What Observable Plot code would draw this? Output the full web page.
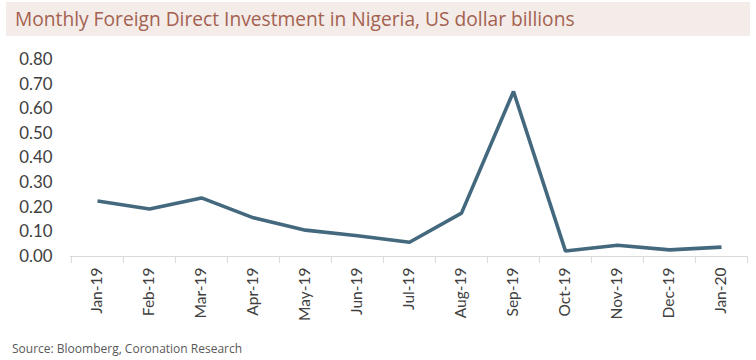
<!DOCTYPE html>
<html>
<head>
<meta charset="utf-8">
<script src="https://cdn.jsdelivr.net/npm/d3@7"></script>
<script src="https://cdn.jsdelivr.net/npm/@observablehq/plot@0.6"></script>
<style>
  html, body { margin: 0; padding: 0; background: #fff; width: 756px; height: 360px; overflow: hidden; }
  #title { position: absolute; left: 6px; top: 2px; width: 744px; height: 34px; background: #f3ece9;
           font-family: "Open Sans", "Noto Sans", sans-serif; font-size: 19.2px; color: #a4614f;
           line-height: 34px; padding-left: 9px; box-sizing: border-box; white-space: nowrap; }
  #chart { position: absolute; left: 0; top: 40px; }
  #source { position: absolute; left: 12px; top: 340px; font-family: "Open Sans", "Noto Sans", sans-serif;
            font-size: 12px; color: #595959; }
</style>
</head>
<body>
<div id="title">Monthly Foreign Direct Investment in Nigeria, US dollar billions</div>
<div id="chart"></div>
<div id="source">Source: Bloomberg, Coronation Research</div>
<script>
const months = ["Jan-19","Feb-19","Mar-19","Apr-19","May-19","Jun-19","Jul-19","Aug-19","Sep-19","Oct-19","Nov-19","Dec-19","Jan-20"];
const fdi = [0.225, 0.193, 0.238, 0.157, 0.107, 0.084, 0.058, 0.176, 0.670, 0.022, 0.046, 0.027, 0.038];
const yTicks = [0, 0.1, 0.2, 0.3, 0.4, 0.5, 0.6, 0.7, 0.8];

const data = months.map((m, i) => ({month: m, value: fdi[i]}));
const lastMonth = months[months.length - 1];

const plot = Plot.plot({
  width: 756,
  height: 290,
  marginTop: 19,
  marginBottom: 74,
  marginLeft: 70,
  marginRight: 8,
  style: {fontFamily: "Lato, 'Open Sans', sans-serif", color: "#404040", background: "transparent"},
  x: {type: "point", domain: months, padding: 0.5, label: null},
  y: {domain: [0, 0.8], label: null},
  marks: [
    Plot.axisY({ticks: yTicks, tickFormat: d3.format(".2f"), tickSize: 0, tickPadding: 18, fontSize: 16.8, label: null, fill: "#404040"}),
    Plot.axisX({tickSize: 0, tickRotate: -90, tickPadding: 11, fontSize: 15.5, label: null, fill: "#404040"}),
    Plot.ruleY([0], {stroke: "#d9d9d9", strokeWidth: 1}),
    Plot.ruleX(months, {x: d => d, y1: 0, y2: 0, dx: -26.1, insetBottom: -7, stroke: "#d9d9d9"}),
    Plot.ruleX([lastMonth], {x: d => d, y1: 0, y2: 0, dx: 26.1, insetBottom: -7, stroke: "#d9d9d9"}),
    Plot.line(data, {x: "month", y: "value", stroke: "#44697e", strokeWidth: 3.6, strokeLinejoin: "miter", strokeLinecap: "butt"})
  ]
});
document.getElementById("chart").appendChild(plot);
</script>
</body>
</html>
